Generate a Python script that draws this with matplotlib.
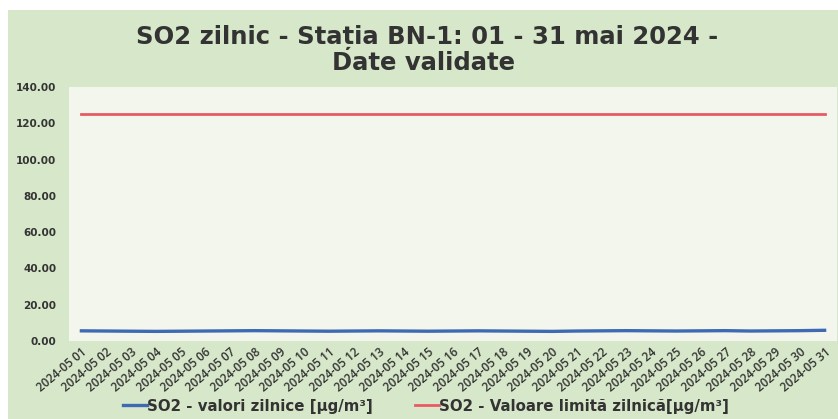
import matplotlib
matplotlib.use('Agg')
import matplotlib.pyplot as plt
from matplotlib.patches import Rectangle

# daily values, May 2024
days = ['2024-05 %02d' % d for d in range(1, 32)]
so2_daily = [5.6, 5.5, 5.4, 5.3, 5.4, 5.5, 5.6, 5.7, 5.6, 5.5,
             5.4, 5.5, 5.6, 5.5, 5.4, 5.5, 5.6, 5.5, 5.4, 5.3,
             5.5, 5.6, 5.7, 5.6, 5.5, 5.6, 5.7, 5.5, 5.6, 5.7, 5.9]
so2_limit = [125.0] * 31
y_ticks = [0, 20, 40, 60, 80, 100, 120, 140]

W, H = 838, 419
fig = plt.figure(figsize=(W / 100, H / 100), dpi=100)
fig.patch.set_facecolor('white')

# green chart area
fig.patches.append(Rectangle((8 / W, 0), 1 - 8 / W, 1 - 10 / H, transform=fig.transFigure,
                             facecolor='#d7e7c9', edgecolor='none', zorder=-10))

ax = fig.add_axes([69 / W, 1 - 341 / H, (837 - 69) / W, (341 - 87) / H])
ax.set_facecolor('#f3f6ed')

x = range(len(days))
ax.plot(x, so2_daily, color='#3d6ab3', lw=2.4, label='SO2 - valori zilnice [µg/m³]')
ax.plot(x, so2_limit, color='#e85a63', lw=2.0, label='SO2 - Valoare limită zilnică[µg/m³]')

ax.set_xlim(-0.5, len(days) - 0.5)
ax.set_ylim(0, 140)
ax.set_yticks(y_ticks)
ax.set_yticklabels(['%.2f' % v for v in y_ticks], fontsize=7.5, fontweight='bold', color='#333333')
ax.set_xticks(list(x))
ax.set_xticklabels(days, rotation=40, ha='right', rotation_mode='anchor',
                   fontsize=8.5, family='Open Sans', fontweight='semibold', color='#333333')
ax.tick_params(axis='y', length=0, pad=9)
ax.tick_params(axis='x', length=0, pad=3)
for s in ax.spines.values():
    s.set_visible(False)

title_kw = dict(ha='center', va='baseline', fontsize=17.5, fontweight='bold', color='#333333')
fig.text(427 / W, 1 - 44 / H, 'SO2 zilnic - Stația BN-1: 01 - 31 mai 2024 -', **title_kw)
fig.text(424 / W, 1 - 70 / H, 'Date validate', **title_kw)

leg = fig.legend(loc='center', bbox_to_anchor=(426 / W, 1 - 406 / H), ncol=2,
                 frameon=False, handlelength=1.6, handletextpad=0.0, columnspacing=2.8,
                 prop={'size': 10.8, 'weight': 'bold'})
for t in leg.get_texts():
    t.set_color('#333333')

fig.savefig('out.png', dpi=100, facecolor=fig.get_facecolor())
